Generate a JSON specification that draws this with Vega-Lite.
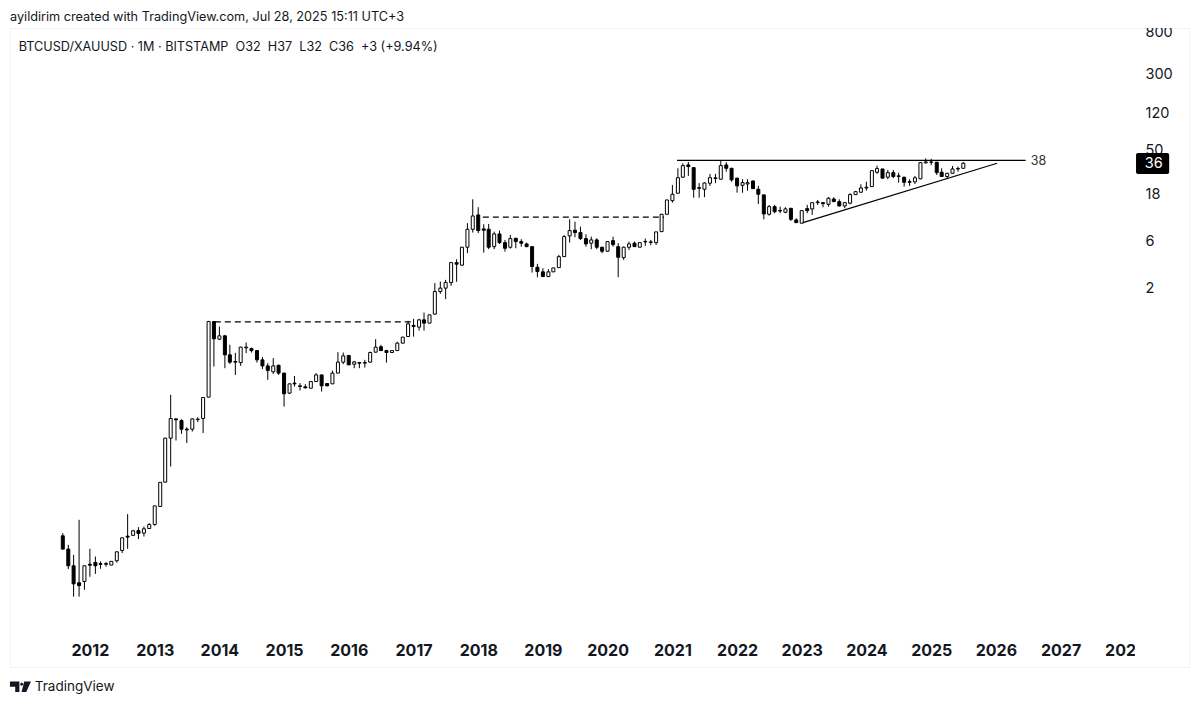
{
  "$schema": "https://vega.github.io/schema/vega-lite/v6.json",
  "autosize": "none",
  "width": 1179,
  "height": 639,
  "padding": {"left": 10, "top": 28, "right": 11, "bottom": 37},
  "background": "white",
  "config": {
    "view": {"stroke": "#f2f3f5"},
    "text": {"font": "Inter", "color": "#131722"}
  },
  "datasets": {
    "candles": [
      {"date":"2011-08-01","open":0.00596,"high":0.00635,"low":0.00437,"close":0.00437},
      {"date":"2011-09-01","open":0.00437,"high":0.00483,"low":0.00274,"close":0.00296},
      {"date":"2011-10-01","open":0.00296,"high":0.00382,"low":0.00144,"close":0.00194},
      {"date":"2011-11-01","open":0.00199,"high":0.00867,"low":0.00144,"close":0.00186},
      {"date":"2011-12-01","open":0.00205,"high":0.00296,"low":0.00169,"close":0.00296},
      {"date":"2012-01-01","open":0.00307,"high":0.0044,"low":0.00229,"close":0.0030},
      {"date":"2012-02-01","open":0.0032,"high":0.00367,"low":0.00245,"close":0.00296},
      {"date":"2012-03-01","open":0.00311,"high":0.00328,"low":0.00276,"close":0.00306},
      {"date":"2012-04-01","open":0.00311,"high":0.00323,"low":0.0029,"close":0.00307},
      {"date":"2012-05-01","open":0.00301,"high":0.00328,"low":0.00301,"close":0.00328},
      {"date":"2012-06-01","open":0.00333,"high":0.00415,"low":0.00318,"close":0.0041},
      {"date":"2012-07-01","open":0.00423,"high":0.00569,"low":0.00398,"close":0.00569},
      {"date":"2012-08-01","open":0.00592,"high":0.0099,"low":0.0044,"close":0.00578},
      {"date":"2012-09-01","open":0.00603,"high":0.00686,"low":0.00592,"close":0.0067},
      {"date":"2012-10-01","open":0.00675,"high":0.00731,"low":0.00552,"close":0.00629},
      {"date":"2012-11-01","open":0.00635,"high":0.00741,"low":0.00586,"close":0.00702},
      {"date":"2012-12-01","open":0.00707,"high":0.00803,"low":0.00702,"close":0.00777},
      {"date":"2013-01-01","open":0.00777,"high":0.0120,"low":0.00753,"close":0.0120},
      {"date":"2013-02-01","open":0.01183,"high":0.0208,"low":0.01183,"close":0.0208},
      {"date":"2013-03-01","open":0.0209,"high":0.0589,"low":0.0208,"close":0.0584},
      {"date":"2013-04-01","open":0.0584,"high":0.1607,"low":0.0301,"close":0.0924},
      {"date":"2013-05-01","open":0.0917,"high":0.0917,"low":0.0553,"close":0.0896},
      {"date":"2013-06-01","open":0.0881,"high":0.091,"low":0.0646,"close":0.072},
      {"date":"2013-07-01","open":0.072,"high":0.0755,"low":0.0521,"close":0.0709},
      {"date":"2013-08-01","open":0.072,"high":0.0924,"low":0.0682,"close":0.0917},
      {"date":"2013-09-01","open":0.0902,"high":0.0954,"low":0.0849,"close":0.091},
      {"date":"2013-10-01","open":0.0924,"high":0.1509,"low":0.0658,"close":0.1509},
      {"date":"2013-11-01","open":0.1523,"high":0.906,"low":0.1523,"close":0.891},
      {"date":"2013-12-01","open":0.891,"high":0.895,"low":0.311,"close":0.595},
      {"date":"2014-01-01","open":0.590,"high":0.793,"low":0.581,"close":0.638},
      {"date":"2014-02-01","open":0.638,"high":0.653,"low":0.2995,"close":0.409},
      {"date":"2014-03-01","open":0.409,"high":0.517,"low":0.331,"close":0.345},
      {"date":"2014-04-01","open":0.350,"high":0.429,"low":0.256,"close":0.345},
      {"date":"2014-05-01","open":0.3415,"high":0.494,"low":0.316,"close":0.490},
      {"date":"2014-06-01","open":0.482,"high":0.546,"low":0.426,"close":0.490},
      {"date":"2014-07-01","open":0.474,"high":0.485,"low":0.432,"close":0.452},
      {"date":"2014-08-01","open":0.452,"high":0.455,"low":0.3415,"close":0.364},
      {"date":"2014-09-01","open":0.364,"high":0.388,"low":0.293,"close":0.316},
      {"date":"2014-10-01","open":0.316,"high":0.337,"low":0.228,"close":0.283},
      {"date":"2014-11-01","open":0.275,"high":0.379,"low":0.262,"close":0.316},
      {"date":"2014-12-01","open":0.321,"high":0.324,"low":0.256,"close":0.267},
      {"date":"2015-01-01","open":0.267,"high":0.269,"low":0.1223,"close":0.1645},
      {"date":"2015-02-01","open":0.1673,"high":0.2093,"low":0.1645,"close":0.2077},
      {"date":"2015-03-01","open":0.2113,"high":0.250,"low":0.195,"close":0.2077},
      {"date":"2015-04-01","open":0.1983,"high":0.2113,"low":0.1777,"close":0.1955},
      {"date":"2015-05-01","open":0.1938,"high":0.2062,"low":0.1862,"close":0.1893},
      {"date":"2015-06-01","open":0.1878,"high":0.2193,"low":0.1862,"close":0.2193},
      {"date":"2015-07-01","open":0.2193,"high":0.267,"low":0.2193,"close":0.256},
      {"date":"2015-08-01","open":0.256,"high":0.256,"low":0.1736,"close":0.1983},
      {"date":"2015-09-01","open":0.2093,"high":0.2093,"low":0.1969,"close":0.1983},
      {"date":"2015-10-01","open":0.2077,"high":0.283,"low":0.2077,"close":0.267},
      {"date":"2015-11-01","open":0.267,"high":0.4357,"low":0.267,"close":0.345},
      {"date":"2015-12-01","open":0.345,"high":0.432,"low":0.329,"close":0.3997},
      {"date":"2016-01-01","open":0.4026,"high":0.409,"low":0.321,"close":0.324},
      {"date":"2016-02-01","open":0.329,"high":0.355,"low":0.2995,"close":0.347},
      {"date":"2016-03-01","open":0.3415,"high":0.343,"low":0.2995,"close":0.337},
      {"date":"2016-04-01","open":0.337,"high":0.364,"low":0.304,"close":0.3415},
      {"date":"2016-05-01","open":0.345,"high":0.442,"low":0.3415,"close":0.432},
      {"date":"2016-06-01","open":0.4357,"high":0.590,"low":0.432,"close":0.490},
      {"date":"2016-07-01","open":0.494,"high":0.517,"low":0.449,"close":0.452},
      {"date":"2016-08-01","open":0.452,"high":0.460,"low":0.3415,"close":0.432},
      {"date":"2016-09-01","open":0.432,"high":0.452,"low":0.429,"close":0.452},
      {"date":"2016-10-01","open":0.452,"high":0.555,"low":0.452,"close":0.538},
      {"date":"2016-11-01","open":0.538,"high":0.623,"low":0.535,"close":0.619},
      {"date":"2016-12-01","open":0.6275,"high":0.906,"low":0.623,"close":0.844},
      {"date":"2017-01-01","open":0.8155,"high":0.949,"low":0.6275,"close":0.793},
      {"date":"2017-02-01","open":0.782,"high":0.949,"low":0.722,"close":0.927},
      {"date":"2017-03-01","open":0.927,"high":1.10,"low":0.722,"close":0.859},
      {"date":"2017-04-01","open":0.859,"high":1.042,"low":0.859,"close":1.042},
      {"date":"2017-05-01","open":1.059,"high":2.188,"low":1.054,"close":1.797},
      {"date":"2017-06-01","open":1.797,"high":2.27,"low":1.702,"close":1.945},
      {"date":"2017-07-01","open":1.945,"high":2.36,"low":1.504,"close":2.218},
      {"date":"2017-08-01","open":2.218,"high":3.55,"low":2.053,"close":3.534},
      {"date":"2017-09-01","open":3.534,"high":3.82,"low":2.255,"close":3.403},
      {"date":"2017-10-01","open":3.326,"high":5.097,"low":3.296,"close":5.06},
      {"date":"2017-11-01","open":5.06,"high":8.87,"low":4.40,"close":7.70},
      {"date":"2017-12-01","open":7.70,"high":15.5,"low":7.12,"close":10.5},
      {"date":"2018-01-01","open":10.76,"high":12.88,"low":7.02,"close":7.46},
      {"date":"2018-02-01","open":7.76,"high":8.66,"low":4.46,"close":7.53},
      {"date":"2018-03-01","open":7.70,"high":8.72,"low":4.83,"close":5.06},
      {"date":"2018-04-01","open":5.13,"high":7.28,"low":4.83,"close":6.90},
      {"date":"2018-05-01","open":6.90,"high":7.46,"low":5.46,"close":5.63},
      {"date":"2018-06-01","open":5.63,"high":6.00,"low":4.56,"close":4.94},
      {"date":"2018-07-01","open":5.06,"high":6.74,"low":4.90,"close":6.19},
      {"date":"2018-08-01","open":6.24,"high":6.29,"low":4.94,"close":5.77},
      {"date":"2018-09-01","open":5.77,"high":6.10,"low":5.13,"close":5.56},
      {"date":"2018-10-01","open":5.46,"high":5.63,"low":5.06,"close":5.13},
      {"date":"2018-11-01","open":5.13,"high":5.15,"low":2.80,"close":3.22},
      {"date":"2018-12-01","open":3.17,"high":3.43,"low":2.51,"close":2.865},
      {"date":"2019-01-01","open":2.846,"high":3.10,"low":2.55,"close":2.55},
      {"date":"2019-02-01","open":2.55,"high":3.03,"low":2.53,"close":2.846},
      {"date":"2019-03-01","open":2.846,"high":3.12,"low":2.846,"close":3.12},
      {"date":"2019-04-01","open":3.14,"high":4.23,"low":3.12,"close":4.06},
      {"date":"2019-05-01","open":4.06,"high":6.74,"low":4.03,"close":6.48},
      {"date":"2019-06-01","open":6.59,"high":9.72,"low":5.63,"close":7.46},
      {"date":"2019-07-01","open":7.53,"high":9.20,"low":6.39,"close":7.12},
      {"date":"2019-08-01","open":7.12,"high":8.19,"low":6.00,"close":6.19},
      {"date":"2019-09-01","open":6.19,"high":6.85,"low":5.13,"close":5.46},
      {"date":"2019-10-01","open":5.56,"high":6.48,"low":4.83,"close":6.00},
      {"date":"2019-11-01","open":6.00,"high":6.24,"low":4.83,"close":5.06},
      {"date":"2019-12-01","open":5.06,"high":5.097,"low":4.40,"close":4.61},
      {"date":"2020-01-01","open":4.61,"high":5.77,"low":4.56,"close":5.77},
      {"date":"2020-02-01","open":5.90,"high":6.48,"low":5.13,"close":5.38},
      {"date":"2020-03-01","open":5.13,"high":5.56,"low":2.51,"close":4.00},
      {"date":"2020-04-01","open":3.97,"high":5.13,"low":3.76,"close":5.06},
      {"date":"2020-05-01","open":5.06,"high":5.77,"low":4.75,"close":5.46},
      {"date":"2020-06-01","open":5.56,"high":5.77,"low":5.097,"close":5.13},
      {"date":"2020-07-01","open":5.06,"high":5.63,"low":5.06,"close":5.63},
      {"date":"2020-08-01","open":5.73,"high":6.19,"low":5.22,"close":5.795},
      {"date":"2020-09-01","open":5.73,"high":6.00,"low":5.30,"close":5.66},
      {"date":"2020-10-01","open":5.63,"high":7.24,"low":5.34,"close":7.24},
      {"date":"2020-11-01","open":7.28,"high":11.0,"low":7.28,"close":10.93},
      {"date":"2020-12-01","open":10.93,"high":15.27,"low":10.93,"close":15.27},
      {"date":"2021-01-01","open":15.03,"high":21.7,"low":14.34,"close":17.44},
      {"date":"2021-02-01","open":17.87,"high":32.0,"low":17.8,"close":25.7},
      {"date":"2021-03-01","open":26.0,"high":36.0,"low":25.6,"close":34.06},
      {"date":"2021-04-01","open":34.6,"high":37.1,"low":26.8,"close":33.3},
      {"date":"2021-05-01","open":32.5,"high":32.6,"low":16.1,"close":19.6},
      {"date":"2021-06-01","open":20.0,"high":22.6,"low":16.1,"close":20.4},
      {"date":"2021-07-01","open":19.6,"high":23.0,"low":16.3,"close":22.7},
      {"date":"2021-08-01","open":22.6,"high":28.1,"low":21.2,"close":25.7},
      {"date":"2021-09-01","open":25.6,"high":28.1,"low":22.6,"close":25.2},
      {"date":"2021-10-01","open":24.8,"high":38.0,"low":24.7,"close":34.06},
      {"date":"2021-11-01","open":34.6,"high":36.9,"low":29.6,"close":32.0},
      {"date":"2021-12-01","open":32.0,"high":32.3,"low":23.4,"close":24.4},
      {"date":"2022-01-01","open":25.4,"high":25.6,"low":18.1,"close":21.2},
      {"date":"2022-02-01","open":21.5,"high":24.8,"low":18.1,"close":22.9},
      {"date":"2022-03-01","open":22.2,"high":24.8,"low":19.0,"close":22.9},
      {"date":"2022-04-01","open":23.8,"high":24.0,"low":19.8,"close":19.9},
      {"date":"2022-05-01","open":19.6,"high":21.2,"low":13.9,"close":17.44},
      {"date":"2022-06-01","open":17.2,"high":17.2,"low":9.72,"close":11.0},
      {"date":"2022-07-01","open":10.93,"high":13.6,"low":10.58,"close":13.06},
      {"date":"2022-08-01","open":13.06,"high":13.6,"low":11.2,"close":11.6},
      {"date":"2022-09-01","open":11.95,"high":13.06,"low":11.2,"close":11.8},
      {"date":"2022-10-01","open":11.45,"high":12.88,"low":11.2,"close":12.38},
      {"date":"2022-11-01","open":12.57,"high":12.67,"low":9.35,"close":9.72},
      {"date":"2022-12-01","open":9.57,"high":9.96,"low":8.99,"close":8.99},
      {"date":"2023-01-01","open":8.87,"high":11.9,"low":8.87,"close":11.9},
      {"date":"2023-02-01","open":12.47,"high":13.6,"low":11.2,"close":11.9},
      {"date":"2023-03-01","open":12.38,"high":14.4,"low":10.76,"close":14.34},
      {"date":"2023-04-01","open":14.34,"high":15.27,"low":13.6,"close":14.58},
      {"date":"2023-05-01","open":14.34,"high":14.34,"low":12.88,"close":14.0},
      {"date":"2023-06-01","open":13.8,"high":16.3,"low":13.06,"close":15.9},
      {"date":"2023-07-01","open":15.6,"high":16.3,"low":14.58,"close":14.68},
      {"date":"2023-08-01","open":14.68,"high":15.5,"low":13.1,"close":13.27},
      {"date":"2023-09-01","open":13.27,"high":14.58,"low":12.57,"close":14.34},
      {"date":"2023-10-01","open":14.15,"high":17.87,"low":13.8,"close":17.3},
      {"date":"2023-11-01","open":17.3,"high":18.84,"low":17.2,"close":18.54},
      {"date":"2023-12-01","open":18.28,"high":22.0,"low":18.2,"close":20.2},
      {"date":"2024-01-01","open":20.2,"high":23.4,"low":19.0,"close":20.55},
      {"date":"2024-02-01","open":20.85,"high":30.3,"low":20.7,"close":30.3},
      {"date":"2024-03-01","open":29.2,"high":34.06,"low":28.1,"close":31.76},
      {"date":"2024-04-01","open":31.5,"high":31.5,"low":25.3,"close":25.4},
      {"date":"2024-05-01","open":26.0,"high":30.8,"low":24.8,"close":28.9},
      {"date":"2024-06-01","open":28.9,"high":30.8,"low":25.4,"close":26.4},
      {"date":"2024-07-01","open":26.8,"high":28.9,"low":22.9,"close":26.5},
      {"date":"2024-08-01","open":26.0,"high":26.2,"low":20.85,"close":23.1},
      {"date":"2024-09-01","open":23.4,"high":24.8,"low":21.2,"close":23.1},
      {"date":"2024-10-01","open":23.3,"high":26.8,"low":22.2,"close":25.6},
      {"date":"2024-11-01","open":25.0,"high":36.5,"low":24.8,"close":36.5},
      {"date":"2024-12-01","open":36.3,"high":40.4,"low":36.0,"close":37.1},
      {"date":"2025-01-01","open":36.8,"high":39.9,"low":34.4,"close":37.1},
      {"date":"2025-02-01","open":36.9,"high":37.1,"low":27.4,"close":28.9},
      {"date":"2025-03-01","open":29.2,"high":32.0,"low":26.2,"close":26.4},
      {"date":"2025-04-01","open":26.4,"high":28.7,"low":24.8,"close":28.5},
      {"date":"2025-05-01","open":28.5,"high":33.8,"low":28.4,"close":31.5},
      {"date":"2025-06-01","open":31.5,"high":33.3,"low":29.6,"close":31.9},
      {"date":"2025-07-01","open":32,"high":37,"low":32,"close":36}
    ],
    "levels": [
      {"line":"resistance","date":"2021-01-27","price":38.5},
      {"line":"resistance","date":"2026-06-18","price":38.5},
      {"line":"support","date":"2023-01-08","price":8.98},
      {"line":"support","date":"2026-01-08","price":36.0}
    ],
    "dashes": [
      {"line":"2014 high","date":"2013-12-06","price":0.885},
      {"line":"2014 high","date":"2016-12-20","price":0.885},
      {"line":"2018 high","date":"2018-01-27","price":10.2},
      {"line":"2018 high","date":"2020-11-15","price":10.2}
    ],
    "masks": [
      {"start":"2028-03-24","end":"2028-10-09","top":2000,"bottom":849},
      {"start":"2028-02-25","end":"2028-06-15","top":0.00055,"bottom":0.00029}
    ]
  },
  "encoding": {
    "x": {
      "field": "date",
      "type": "temporal",
      "scale": {
        "type": "utc",
        "nice": false,
        "padding": 0,
        "domain": [
          {"year": 2010, "month": 10, "date": 7, "utc": true},
          {"year": 2028, "month": 12, "date": 26, "utc": true}
        ]
      },
      "axis": {
        "title": null,
        "orient": "bottom",
        "offset": -17,
        "domain": false,
        "ticks": false,
        "grid": false,
        "format": "%Y",
        "formatType": "utc",
        "values": [
          {"year": 2012, "month": 1, "date": 1, "utc": true},
          {"year": 2013, "month": 1, "date": 1, "utc": true},
          {"year": 2014, "month": 1, "date": 1, "utc": true},
          {"year": 2015, "month": 1, "date": 1, "utc": true},
          {"year": 2016, "month": 1, "date": 1, "utc": true},
          {"year": 2017, "month": 1, "date": 1, "utc": true},
          {"year": 2018, "month": 1, "date": 1, "utc": true},
          {"year": 2019, "month": 1, "date": 1, "utc": true},
          {"year": 2020, "month": 1, "date": 1, "utc": true},
          {"year": 2021, "month": 1, "date": 1, "utc": true},
          {"year": 2022, "month": 1, "date": 1, "utc": true},
          {"year": 2023, "month": 1, "date": 1, "utc": true},
          {"year": 2024, "month": 1, "date": 1, "utc": true},
          {"year": 2025, "month": 1, "date": 1, "utc": true},
          {"year": 2026, "month": 1, "date": 1, "utc": true},
          {"year": 2027, "month": 1, "date": 1, "utc": true},
          {"year": 2028, "month": 1, "date": 1, "utc": true}
        ],
        "labelFont": "Inter",
        "labelFontSize": 16,
        "labelFontWeight": 700,
        "labelColor": "#131722",
        "labelPadding": 0,
        "labelBaseline": "middle",
        "labelAlign": "center",
        "labelOverlap": false,
        "labelBound": false,
        "labelFlush": false
      }
    }
  },
  "layer": [
    {
      "data": {"name": "candles"},
      "mark": {"type": "rule", "color": "black", "strokeWidth": 1},
      "encoding": {
        "y": {
          "field": "low",
          "type": "quantitative",
          "scale": {"type": "log", "domain": [0.000278, 849], "nice": false},
          "axis": {
            "title": null,
            "orient": "right",
            "offset": -44,
            "domain": false,
            "ticks": false,
            "grid": false,
            "values": [800, 300, 120, 50, 18, 6, 2],
            "format": "d",
            "labelFont": "Inter",
            "labelFontSize": 14.5,
            "labelColor": "#131722",
            "labelPadding": 0,
            "labelOffset": 1.5,
            "labelAlign": "left",
            "labelBaseline": "middle",
            "labelOverlap": false,
            "labelBound": false
          }
        },
        "y2": {"field": "high"}
      }
    },
    {
      "data": {"name": "candles"},
      "mark": {"type": "bar", "size": 3, "stroke": "black", "strokeWidth": 1},
      "encoding": {
        "y": {"field": "open", "type": "quantitative"},
        "y2": {"field": "close"},
        "fill": {
          "condition": {"test": "datum.close >= datum.open", "value": "white"},
          "value": "black"
        }
      }
    },
    {
      "data": {"name": "levels"},
      "mark": {"type": "line", "color": "black", "strokeWidth": 1.3},
      "encoding": {
        "y": {"field": "price", "type": "quantitative"},
        "detail": {"field": "line"}
      }
    },
    {
      "data": {"name": "dashes"},
      "mark": {"type": "line", "color": "black", "strokeWidth": 1.2, "strokeDash": [6, 4]},
      "encoding": {
        "y": {"field": "price", "type": "quantitative"},
        "detail": {"field": "line"}
      }
    },
    {
      "data": {"name": "masks"},
      "mark": {"type": "rect", "fill": "white"},
      "encoding": {
        "x": {"field": "start", "type": "temporal"},
        "x2": {"field": "end"},
        "y": {"field": "top", "type": "quantitative"},
        "y2": {"field": "bottom"}
      }
    },
    {
      "data": {"values": [{"start": "2028-03-02", "end": "2028-09-05", "top": 45.8, "bottom": 28}]},
      "mark": {"type": "rect", "fill": "black", "cornerRadius": 2},
      "encoding": {
        "x": {"field": "start", "type": "temporal"},
        "x2": {"field": "end"},
        "y": {"field": "top", "type": "quantitative"},
        "y2": {"field": "bottom"}
      }
    },
    {
      "data": {"values": [{"date": "2028-06-10", "price": 35, "label": "36"}]},
      "mark": {"type": "text", "color": "white", "fontSize": 14.5, "align": "center", "baseline": "middle"},
      "encoding": {
        "y": {"field": "price", "type": "quantitative"},
        "text": {"field": "label"}
      }
    },
    {
      "data": {"values": [{"date": "2026-07-17", "price": 37.8, "label": "38"}]},
      "mark": {"type": "text", "color": "#333333", "fontSize": 12.5, "align": "left", "baseline": "middle"},
      "encoding": {
        "y": {"field": "price", "type": "quantitative"},
        "text": {"field": "label"}
      }
    },
    {
      "data": {"values": [{"date": "2010-10-07", "price": 1100, "label": "ayildirim created with TradingView.com, Jul 28, 2025 15:11 UTC+3"}]},
      "mark": {"type": "text", "fontSize": 12.7, "align": "left", "baseline": "middle"},
      "encoding": {
        "y": {"field": "price", "type": "quantitative"},
        "text": {"field": "label"}
      }
    },
    {
      "data": {"values": [{"date": "2010-11-25", "price": 550, "label": "BTCUSD/XAUUSD · 1M · BITSTAMP\u00a0\u00a0O32\u00a0\u00a0H37\u00a0\u00a0L32\u00a0\u00a0C36\u00a0\u00a0+3 (+9.94%)"}]},
      "mark": {"type": "text", "fontSize": 12.65, "align": "left", "baseline": "middle"},
      "encoding": {
        "y": {"field": "price", "type": "quantitative"},
        "text": {"field": "label"}
      }
    },
    {
      "data": {"values": [{"date": "2011-02-24", "price": 0.000175, "label": "TradingView"}]},
      "mark": {"type": "text", "fontSize": 13.5, "align": "left", "baseline": "middle"},
      "encoding": {
        "y": {"field": "price", "type": "quantitative"},
        "text": {"field": "label"}
      }
    },
    {
      "data": {"values": [{"date": "2010-12-05", "price": 0.000175}]},
      "mark": {
        "type": "point",
        "filled": true,
        "opacity": 1,
        "size": 441,
        "color": "#131722",
        "shape": "M-1,-0.5 L-0.1,-0.5 L-0.1,0.5 L-0.5,0.5 L-0.5,0 L-1,0 Z M-0.02,-0.25 A0.14,0.14 0 1 0 0.26,-0.25 A0.14,0.14 0 1 0 -0.02,-0.25 Z M0.36,-0.5 L1,-0.5 L0.55,0.5 L0.1,0.5 Z"
      },
      "encoding": {
        "y": {"field": "price", "type": "quantitative"}
      }
    }
  ]
}
